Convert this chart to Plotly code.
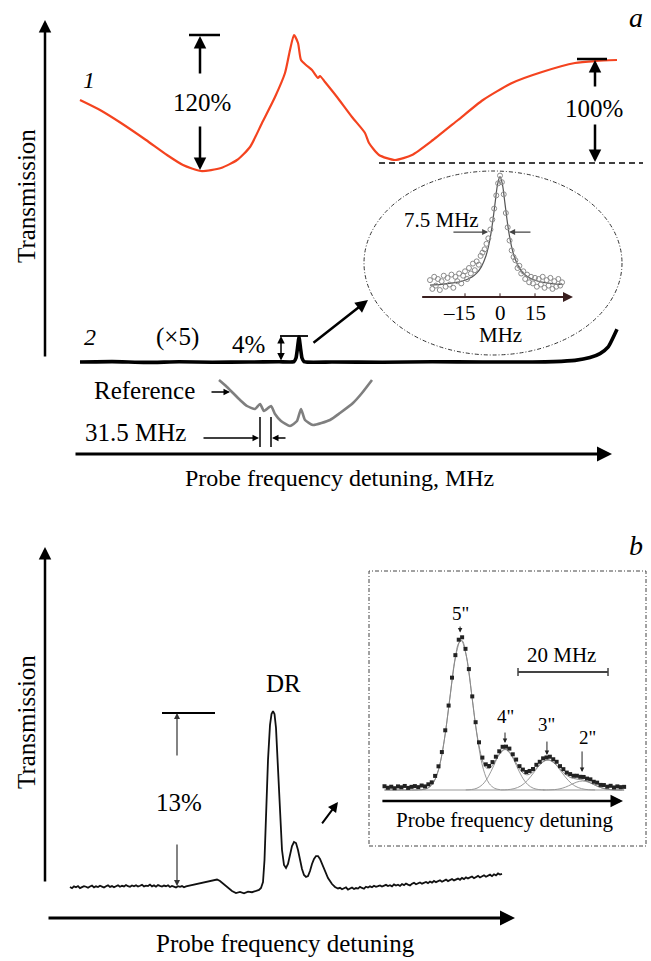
import plotly.graph_objects as go

W, H = 651, 961
def PX(x): return x / W
def PY(y): return 1 - y / H

FONT = "'Liberation Serif', 'Times New Roman', Times, 'DejaVu Serif', serif"

# ---------------- Panel a (x: detuning, MHz ; y: transmission, a.u.) ----------------
a1_x = [-657, -597, -534, -459, -396, -348, -294, -234, -186, -147, -111, -72, -42, -27, -15,
        -3, 6, 21, 39, 57, 63, 78, 114, 159, 198, 210, 240, 288, 339, 402, 477, 552, 639,
        729, 828, 891, 954]
a1_y = [90, 87.5, 84.25, 80, 76.25, 73.75, 72.25, 73, 75, 78.25, 84.25, 90.75, 96.75, 102.5,
        106.25, 104.25, 100, 98.75, 97.5, 95.5, 96, 94.5, 90.75, 85.75, 81.75, 79.25, 76.25,
        75, 76.25, 80, 85, 90, 94.25, 97, 99.25, 99.75, 100]

a2_x = [-657, -560, -460, -360, -260, -150, -60, -15, -9, -4.5, 0, 4.5, 9, 15, 100, 250,
        400, 550, 700, 765, 828, 873, 903, 927, 954]
a2_y = [24.5, 24.6, 24.4, 24.55, 24.45, 24.5, 24.55, 24.6, 25.5, 28, 30.75, 28, 25.5, 24.6,
        24.5, 24.45, 24.55, 24.5, 24.5, 24.6, 24.9, 25.6, 26.6, 28.2, 32.7]

ref_x = [-240, -219, -198, -177, -156, -132, -117, -105, -84, -72, -54, -27, -6, 6, 18, 42,
         93, 123, 162, 189, 219]
ref_y = [20, 18.5, 16.75, 15, 13.5, 12.75, 14, 12.25, 13.5, 11.5, 9.75, 8.5, 9.75, 12.75,
         10, 8.75, 10, 11.75, 14.25, 16.75, 20]

# inset of panel a (x: MHz ; y: normalised signal)
ia_pts_x = [-30, -29, -28.2, -27.5, -26.6, -25.8, -25, -24.1, -23.3, -22.5, -21.6, -20.8, -20,
            -19.1, -18.3, -17.5, -16.6, -15.8, -15, -14.1, -13.3, -12.5, -11.6, -10.8, -10,
            -9.1, -8.3, -7.5, -6.6, -5.8, -5, -4.1, -3.3, -2.5, -1.6, -0.8, 0, 0.8, 1.6, 2.5,
            3.3, 4.1, 5, 5.8, 6.6, 7.5, 8.3, 9.1, 10, 10.8, 11.6, 12.5, 13.3, 14.1, 15, 15.8,
            16.6, 17.5, 18.3, 19.1, 20, 20.8, 21.6, 22.5, 23.3, 24.1, 25, 25.8, 26.6]
ia_pts_y = [.09, .01, .12, .04, .10, .00, .08, .13, .03, .11, .05, .14, .02, .12, .08, .15, .06,
            .13, .17, .10, .20, .15, .24, .18, .26, .23, .31, .34, .37, .42, .47, .55, .64, .74,
            .86, .97, 1.04, .98, .87, .70, .57, .45, .36, .30, .27, .20, .22, .15, .17, .10, .14,
            .07, .12, .06, .11, .03, .10, .05, .12, .02, .09, .04, .11, .01, .08, .03, .10, .04, .07]
ia_fit_x = [-30, -25, -20, -15, -12, -10, -8, -6, -5, -4, -3, -2, -1, 0, 1, 2, 3, 4, 5, 6, 8,
            10, 12, 15, 20, 25, 27]
ia_fit_y = [.045, .052, .064, .089, .119, .153, .21, .311, .39, .498, .64, .808, .964, 1.03,
            .964, .808, .64, .498, .39, .311, .21, .153, .119, .089, .064, .052, .050]
ia_ticks = [-15, 0, 15]
ia_tick_text = ["\u201315", "0", "15"]

# ---------------- Panel b (x: detuning, MHz ; y: transmission change, %) ----------------
b_x = [-81.2, -80.4, -79.6, -78.8, -78.0, -77.2, -76.4, -75.6, -74.8, -74.0, -73.2, -72.4,
       -71.6, -70.8, -70.0, -69.2, -68.4, -67.6, -66.8, -66.0, -65.2, -64.4, -63.6, -62.8,
       -62.0, -61.2, -60.4, -59.6, -58.8, -58.0, -57.2, -56.4, -55.6, -54.8, -54.0, -53.2,
       -52.4, -51.6, -50.8, -50.0, -49.2, -48.4, -47.6, -46.8, -46.0, -45.2, -44.4, -43.6,
       -42.8, -42.0, -41.2, -40.4, -39.6, -38.8, -38.0, -37.2, -36.4, -35.6, -34.8, -33.2,
       -31.6, -30.0, -28.4, -26.8, -25.2, -23.6, -22.4, -21.2, -19.6, -18.0, -16.4, -14.8,
       -13.2, -11.6, -10.0, -8.4, -6.8, -5.6, -4.8, -4.0, -3.4, -2.8, -2.0, -1.2, -0.6, 0,
       0.6, 1.2, 2.0, 2.8, 3.6, 4.4, 5.2, 6.0, 6.8, 7.6, 8.4, 9.2, 10.0, 10.8, 11.6, 12.4,
       13.2, 14.0, 14.8, 15.6, 16.4, 17.2, 18.0, 18.8, 19.6, 20.4, 21.2, 22.0, 22.8, 23.6,
       24.8, 26.0, 26.8, 27.6, 28.4, 29.2, 30.0, 30.8, 31.6, 32.4, 33.2, 34.0, 34.8, 35.6,
       36.4, 37.2, 38.0, 38.8, 39.6, 40.4, 41.2, 42.0, 42.8, 43.6, 44.4, 45.2, 46.0, 46.8,
       47.6, 48.4, 49.2, 50.0, 50.8, 51.6, 52.4, 53.2, 54.0, 54.8, 55.6, 56.4, 57.2, 58.0,
       58.8, 59.6, 60.4, 61.2, 62.0, 62.8, 63.6, 64.4, 65.2, 66.0, 66.8, 67.6, 68.4, 69.2,
       70.0, 70.8, 71.6, 72.4, 73.2, 74.0, 74.8, 75.6, 76.4, 77.2, 78.0, 78.8, 79.6, 80.4,
       81.2, 82.0, 82.8, 83.6, 84.4, 85.2, 86.0, 86.8, 87.6, 88.4, 89.2, 90.0, 90.8, 91.6]
b_y = [0.00, -0.09, 0.05, -0.02, 0.07, -0.08, -0.01, 0.06, 0.02, -0.06, 0.04, 0.10, -0.03,
       0.05, 0.00, 0.09, 0.03, -0.04, 0.06, 0.12, 0.01, 0.07, -0.02, 0.08, 0.13, 0.02, 0.09,
       0.04, 0.15, 0.06, 0.01, 0.11, 0.05, 0.13, 0.03, 0.09, 0.16, 0.04, 0.10, 0.07, 0.18,
       0.05, 0.12, 0.02, 0.14, 0.08, 0.03, 0.11, 0.06, 0.13, 0.00, 0.08, 0.04, -0.03, 0.06,
       0.01, 0.07, -0.02, 0.04, 0.11, 0.15, 0.22, 0.30, 0.37, 0.45, 0.52, 0.56, 0.45, 0.22,
       -0.07, -0.30, -0.45, -0.37, -0.47, -0.34, -0.39, -0.26, -0.22, -0.07, 0.37, 2.01, 5.37,
       9.48, 12.09, 12.91, 13.13, 12.91, 11.87, 9.10, 5.37, 2.76, 1.64, 1.42, 1.72, 2.39,
       3.06, 3.36, 3.28, 2.76, 2.01, 1.34, 0.90, 0.75, 0.82, 1.19, 1.72, 2.09, 2.31, 2.31,
       2.09, 1.72, 1.27, 0.90, 0.67, 0.45, 0.22, 0.0, -0.11, -0.06, -0.17, -0.09, -0.03,
       -0.19, -0.10, -0.04, -0.15, -0.08, -0.12, 0.01, -0.07, -0.13, 0.02, -0.04, 0.05,
       -0.02, 0.09, 0.01, 0.06, 0.12, 0.03, 0.09, 0.16, 0.07, 0.13, 0.05, 0.19, 0.11, 0.17,
       0.08, 0.22, 0.14, 0.26, 0.18, 0.12, 0.24, 0.31, 0.20, 0.27, 0.34, 0.25, 0.30, 0.38,
       0.29, 0.41, 0.33, 0.45, 0.36, 0.42, 0.50, 0.39, 0.47, 0.55, 0.44, 0.52, 0.60, 0.49,
       0.57, 0.63, 0.54, 0.68, 0.59, 0.72, 0.64, 0.70, 0.78, 0.66, 0.75, 0.83, 0.71, 0.80,
       0.88, 0.77, 0.85, 0.92, 0.81, 0.95, 0.87, 1.01, 0.93, 0.98]

# inset of panel b (x: MHz ; y: normalised signal)
ib_x = [-17, -16.25, -15.5, -14.75, -14, -13.25, -12.5, -11.75, -11, -10.25, -9.5, -8.75, -8,
        -7.25, -6.5, -5.75, -5, -4.25, -3.5, -2.75, -2, -1.25, -0.5, 0.25, 1, 1.75, 2.5, 3.25,
        4, 4.75, 5.5, 6.25, 7, 7.75, 8.5, 9.25, 10, 10.75, 11.5, 12.25, 13, 13.75, 14.5,
        15.25, 16, 16.75, 17.5, 18.25, 19, 19.75, 20.5, 21.25, 22, 22.75, 23.5, 24.25, 25,
        25.75, 26.5, 27.25, 28, 28.75, 29.5, 30.25, 31, 31.75, 32.5, 33.25, 34, 34.75, 35.5,
        36.25]
ib_y = [.025, .015, .022, .012, .024, .018, .027, .014, .021, .026, .019, .030, .024, .038,
        .051, .094, .158, .253, .398, .563, .749, .899, 1.002, 1.018, .941, .806, .624, .452,
        .318, .216, .171, .160, .186, .222, .258, .288, .289, .276, .238, .203, .159, .136,
        .120, .127, .140, .168, .188, .211, .217, .222, .205, .188, .159, .139, .116, .106,
        .095, .095, .088, .087, .076, .071, .055, .049, .034, .033, .022, .028, .017, .024,
        .019, .021]
ib_fit = [0, 0, 0, 0, 0, 0, 0, 0, 0, 0, .0007, .0022, .006, .0149, .034, .071, .135, .236,
          .375, .546, .726, .882, .980, .995, .923, .783, .607, .43, .296, .199, .150, .143,
          .164, .201, .239, .265, .271, .254, .221, .180, .141, .114, .102, .105, .122, .145,
          .169, .189, .199, .199, .187, .166, .141, .117, .098, .084, .077, .073, .070, .066,
          .058, .048, .037, .026, .017, .0098, .0053, .0026, .0012, .0005, .0002, 0]
g5_x = [-8.75, -7.5, -6.25, -5, -3.75, -2.5, -1.25, 0, 1.25, 2.5, 3.75, 5, 6.25, 7.5, 8.75]
g5_y = [.002, .011, .044, .135, .325, .607, .883, 1, .883, .607, .325, .135, .044, .011, .002]
g4_x = [1.05, 2.3, 3.55, 4.8, 6.05, 7.3, 8.55, 9.8, 11.05, 12.3, 13.55, 14.8, 16.05, 17.3, 18.55]
g4_y = [.0006, .003, .012, .037, .088, .164, .238, .27, .238, .164, .088, .037, .012, .003, .0006]
g3_x = [8.8, 10.3, 11.8, 13.3, 14.8, 16.3, 17.8, 19.3, 20.8, 22.3, 23.8, 25.3, 26.8, 28.3, 29.8]
g3_y = [.0004, .002, .009, .027, .065, .121, .177, .2, .177, .121, .065, .027, .009, .002, .0004]
g2_x = [18.25, 19.5, 20.75, 22, 23.25, 24.5, 25.75, 27, 28.25, 29.5, 30.75, 32, 33.25, 34.5, 35.75]
g2_y = [.0001, .0007, .0026, .0081, .0195, .0364, .053, .06, .053, .0364, .0195, .0081, .0026,
        .0007, .0001]
ib_peaks = [("5\"", -0.2, 1.18, 1.10, 1.05),
            ("4\"", 9.78, 0.487, 0.393, 0.313),
            ("3\"", 19.1, 0.44, 0.333, 0.233)]
scale_bar_start, scale_bar_mhz = 12.67, 20

fig = go.Figure()

# panel a traces
fig.add_trace(go.Scatter(x=a1_x, y=a1_y, mode="lines", line=dict(color="#f4431f", width=2.2,
                         shape="spline", smoothing=0.6), xaxis="x", yaxis="y"))
fig.add_trace(go.Scatter(x=a2_x, y=a2_y, mode="lines", line=dict(color="black", width=3.6,
                         shape="spline", smoothing=0.5), xaxis="x", yaxis="y"))
fig.add_trace(go.Scatter(x=ref_x, y=ref_y, mode="lines", line=dict(color="#7f7f7f", width=2.6,
                         shape="spline", smoothing=0.5), xaxis="x", yaxis="y"))
# inset a
fig.add_trace(go.Scatter(x=ia_fit_x, y=ia_fit_y, mode="lines",
                         line=dict(color="#555", width=1.2, shape="spline"), xaxis="x2", yaxis="y2"))
fig.add_trace(go.Scatter(x=ia_pts_x, y=ia_pts_y, mode="markers",
                         marker=dict(symbol="circle-open", size=5, color="#8a8a8a",
                                     line=dict(width=1)), xaxis="x2", yaxis="y2"))
# panel b
fig.add_trace(go.Scatter(x=b_x, y=b_y, mode="lines", line=dict(color="#111", width=1.8),
                         xaxis="x3", yaxis="y3"))
# inset b
for gx, gy in [(g5_x, g5_y), (g4_x, g4_y), (g3_x, g3_y), (g2_x, g2_y),
               ([ib_x[0], ib_x[-1]], [0, 0])]:
    fig.add_trace(go.Scatter(x=gx, y=gy, mode="lines", line=dict(color="#999", width=1,
                             shape="spline"), xaxis="x4", yaxis="y4"))
fig.add_trace(go.Scatter(x=ib_x, y=ib_fit, mode="lines", line=dict(color="#888", width=1,
                         shape="spline"), xaxis="x4", yaxis="y4"))
fig.add_trace(go.Scatter(x=ib_x, y=ib_y, mode="markers",
                         marker=dict(symbol="square", size=4, color="#222"),
                         xaxis="x4", yaxis="y4"))

ann, shp = [], []

def arrow(x0, y0, x1, y1, r, width=2.5, size=1.0, color="black", both=False, head=2):
    xr, yr = r
    ann.append(dict(x=x1, y=y1, ax=x0, ay=y0, xref=xr, yref=yr, axref=xr, ayref=yr, text="",
                    showarrow=True, arrowhead=head, arrowsize=size, arrowwidth=width,
                    arrowcolor=color, standoff=0, startstandoff=0,
                    arrowside="end+start" if both else "end",
                    startarrowhead=head, startarrowsize=size))

def line(x0, y0, x1, y1, r, width=2, color="black", dash=None):
    xr, yr = r
    d = dict(type="line", x0=x0, y0=y0, x1=x1, y1=y1, xref=xr, yref=yr,
             line=dict(color=color, width=width))
    if dash:
        d["line"]["dash"] = dash
    shp.append(d)

def txt(x, y, s, r, size=25, angle=0, **kw):
    xr, yr = r
    d = dict(x=x, y=y, text=s, xref=xr, yref=yr, showarrow=False, textangle=angle,
             xanchor="center", yanchor="middle",
             font=dict(family=FONT, size=size, color="black"))
    d.update(kw)
    ann.append(d)

A = ("x", "y"); IA = ("x2", "y2"); B = ("x3", "y3"); IB = ("x4", "y4"); P = ("paper", "paper")

# ---- panel a annotations
arrow(-762, 25.5, -762, 110, A, width=2.5, size=1.0)
arrow(-675, 1.5, 939, 1.5, A, width=3, size=1.0)
txt(120, -4.5, "Probe frequency detuning, MHz", A, size=24)
txt(PX(26), PY(196), "Transmission", P, size=25, angle=-90)
txt(PX(636), PY(17), "<i>a</i>", P, size=28)
txt(-630, 95, "<i>1</i>", A, size=24)
line(-330, 106.25, -237, 106.25, A, width=2.5)
arrow(-297, 96.25, -297, 106, A, width=2.5, size=1.0)
txt(-291, 89.5, "120%", A, size=25)
arrow(-297, 83.75, -297, 72.5, A, width=2.5, size=1.0)
line(834, 100.25, 924, 100.25, A, width=2.5)
arrow(888, 93, 888, 100, A, width=2.5, size=1.0)
txt(885, 88, "100%", A, size=25)
arrow(888, 84.25, 888, 74.5, A, width=2.5, size=1.0)
line(240, 74.25, 1032, 74.25, A, width=1.3, dash="6px,4px")
txt(-627, 30.75, "<i>2</i>", A, size=24)
txt(-366, 30.75, "(\u00d75)", A, size=25)
txt(-153, 29, "4%", A, size=25)
line(-57, 31, 27, 31, A, width=1.8)
arrow(-54, 24.5, -54, 31, A, width=1.5, size=1.0, both=True)
arrow(39, 29, 207, 40, A, width=2.5, size=1.0)
txt(-465, 17.5, "Reference", A, size=25)
arrow(-267, 17, -207, 17, A, width=1.3, size=1.0)
txt(-492, 7, "31.5 MHz", A, size=25)
arrow(-291, 5.5, -120, 5.5, A, width=1.3, size=1.0)
arrow(-36, 5.5, -81, 5.5, A, width=1.3, size=1.0)
for xv in (-117, -84):
    line(xv, 3.25, xv, 10.75, A, width=1.5)

# ---- inset a
shp.append(dict(type="circle", xref="paper", yref="paper", x0=PX(364), x1=PX(622),
                y0=PY(355), y1=PY(171), line=dict(color="#333", width=1, dash="4px,2px,1px,2px")))
arrow(-34, -0.064, 31.3, -0.064, IA, width=2, size=1.0, color="#3a1f1f")
for t, s in zip(ia_ticks, ia_tick_text):
    line(t, -0.064, t, -0.03, IA, width=1, color="#3a1f1f")
    txt(t, -0.209, s, IA, size=21, xshift=-6 if t < 0 else 0)
txt(0, -0.41, "MHz", IA, size=21)
txt(-24.9, 0.636, "7.5 MHz", IA, size=21)
arrow(-20.6, 0.527, -5.1, 0.527, IA, width=1.2, size=1.0, color="#444")
arrow(13.7, 0.527, 3.9, 0.527, IA, width=1.2, size=1.0, color="#444")

# ---- panel b annotations
arrow(-91.2, 0.30, -91.2, 25.37, B, width=2.5, size=1.0)
arrow(-90.4, -2.31, 96.8, -2.31, B, width=3, size=1.0)
txt(4.8, -4.18, "Probe frequency detuning", B, size=25)
txt(PX(26), PY(722), "Transmission", P, size=25, angle=-90)
txt(PX(636), PY(545), "<i>b</i>", P, size=28)
line(-44.4, 12.99, -23.2, 12.99, B, width=2)
arrow(-38.4, 9.70, -38.4, 12.99, B, width=1.2, size=1.0, color="#333")
txt(-37.6, 6.34, "13%", B, size=25)
arrow(-38.4, 3.28, -38.4, 0.07, B, width=1.2, size=1.0, color="#333")
txt(4.0, 15.22, "DR", B, size=25)
arrow(19.2, 4.63, 26.0, 6.34, B, width=2, size=1.0)

# ---- inset b
shp.append(dict(type="rect", xref="paper", yref="paper", x0=PX(369), x1=PX(646),
                y0=PY(846), y1=PY(571), line=dict(color="#444", width=1, dash="4px,2px,1px,2px")))
for lab, xv, yt, y0, y1 in ib_peaks:
    txt(xv, yt, lab, IB, size=19)
    arrow(xv, y0, xv, y1, IB, width=1, size=0.9, color="#222")
txt(28, 0.347, "2\"", IB, size=19)
arrow(26.9, 0.267, 26.9, 0.12, IB, width=1, size=0.9, color="#222")
txt(22.4, 0.9, "20 MHz", IB, size=21)
sb_end = scale_bar_start + scale_bar_mhz
line(scale_bar_start, 0.787, sb_end, 0.787, IB, width=2, color="#444")
for xv in (scale_bar_start, sb_end):
    line(xv, 0.76, xv, 0.814, IB, width=1.5, color="#444")
arrow(-17.8, -0.073, 36, -0.073, IB, width=2.5, size=1.0)
txt(9.56, -0.2, "Probe frequency detuning", IB, size=21)

ax_common = dict(visible=False, showgrid=False, zeroline=False, fixedrange=True)
fig.update_layout(
    width=W, height=H, margin=dict(l=0, r=0, t=0, b=0),
    font=dict(family=FONT),
    paper_bgcolor="white", plot_bgcolor="rgba(0,0,0,0)", showlegend=False,
    xaxis=dict(domain=[0, 1], range=[-897, 1056], anchor="y", **ax_common),
    yaxis=dict(domain=[1 - 500 / H, 1], range=[-10, 115], anchor="x", **ax_common),
    xaxis2=dict(domain=[PX(400), PX(600)], range=[-42.857, 42.857], anchor="y2", **ax_common),
    yaxis2=dict(domain=[PY(360), PY(170)], range=[-0.6364, 1.0909], anchor="x2", **ax_common),
    xaxis3=dict(domain=[0, 1], range=[-109.2, 151.2], anchor="y3", **ax_common),
    yaxis3=dict(domain=[0, PY(520)], range=[-5.5224, 27.388], anchor="x3", **ax_common),
    xaxis4=dict(domain=[PX(375), PX(640)], range=[-19.111, 39.778], anchor="y4", **ax_common),
    yaxis4=dict(domain=[PY(840), PY(580)], range=[-0.3333, 1.4], anchor="x4", **ax_common),
    annotations=ann, shapes=shp,
)
fig.write_html("out.html")
